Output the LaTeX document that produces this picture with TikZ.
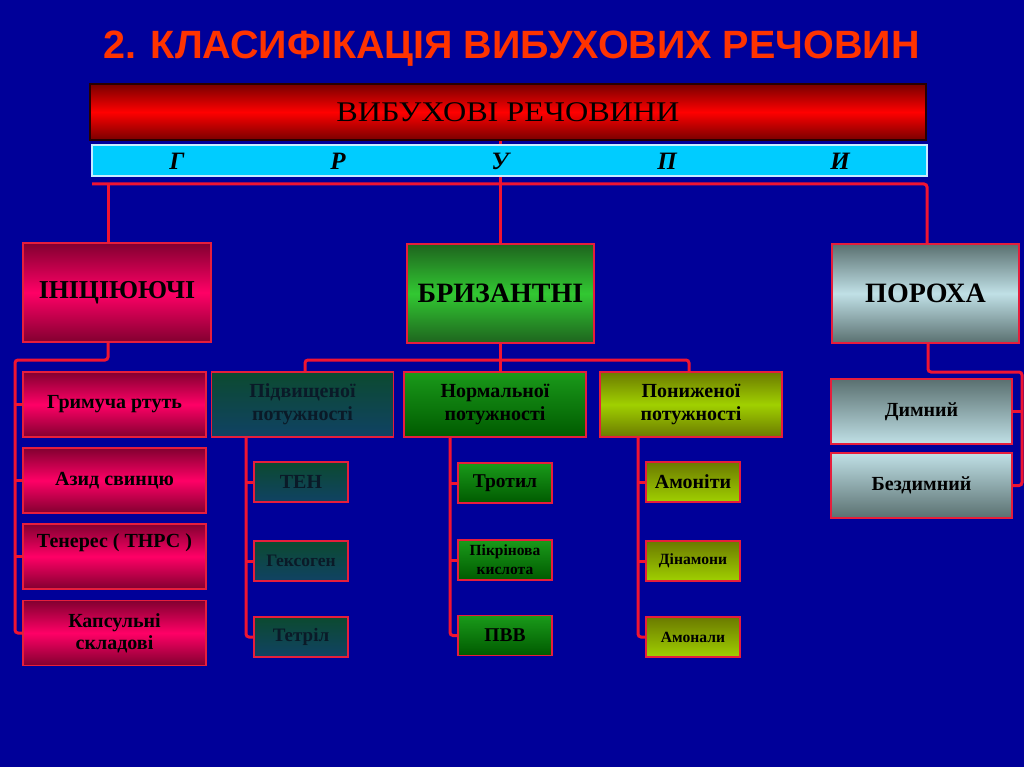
\documentclass[tikz,border=0pt]{standalone}
\usepackage{fontspec}
\setmainfont{Liberation Serif}
\newfontfamily\titlefont{Liberation Sans}
\pgfdeclarelayer{bg}
\pgfsetlayers{bg,main}
\definecolor{bgblue}{RGB}{0,0,153}
\definecolor{titlered}{RGB}{255,51,0}
\definecolor{linered}{RGB}{240,20,50}
\definecolor{boxred}{RGB}{230,30,60}
\definecolor{mainA}{RGB}{120,0,0}
\definecolor{mainB}{RGB}{255,0,0}
\definecolor{cyanbar}{RGB}{0,204,255}
\definecolor{magA}{RGB}{130,0,48}
\definecolor{magB}{RGB}{255,0,102}
\definecolor{grA}{RGB}{30,100,30}
\definecolor{grB}{RGB}{50,200,50}
\definecolor{gyA}{RGB}{90,112,112}
\definecolor{gyB}{RGB}{192,224,230}
\definecolor{tlA}{RGB}{12,74,48}
\definecolor{tlB}{RGB}{16,66,100}
\definecolor{ngA}{RGB}{26,154,26}
\definecolor{ngB}{RGB}{0,90,0}
\definecolor{ylA}{RGB}{107,122,0}
\definecolor{ylB}{RGB}{160,208,0}
\definecolor{darktext}{RGB}{10,26,40}
\newcommand\fsz[2]{\fontsize{#1}{#2}\selectfont}
\begin{document}
\begin{tikzpicture}[x=1pt,y=-1pt,
  box/.style={draw=boxred, line width=1.2pt, inner sep=0pt, align=center, font=\bfseries},
  magbox/.style={box, top color=magA, bottom color=magA, middle color=magB},
  grbox/.style={box, top color=grA, bottom color=grA, middle color=grB},
  gybox/.style={box, top color=gyA, bottom color=gyA, middle color=gyB},
  tlbox/.style={box, top color=tlA, bottom color=tlB, text=darktext},
  ngbox/.style={box, top color=ngA, bottom color=ngB},
  ylbox/.style={box, top color=ylA, bottom color=ylA, middle color=ylB},
  ylsmall/.style={box, top color=ylA, bottom color=ylB},
  conn/.style={draw=linered, line width=3pt, rounded corners=3pt},
  grp/.style={font=\bfseries\itshape\fsz{25}{28}},
  sub/.style={minimum width=182pt, minimum height=65pt, font=\bfseries\fsz{20}{23}},
  small/.style={minimum width=94pt, minimum height=40pt},
  leftb/.style={magbox, minimum width=183pt, minimum height=65pt, font=\bfseries\fsz{20}{22}},
  powb/.style={gybox, minimum width=181pt, minimum height=65pt, font=\bfseries\fsz{20}{22}}
]
\useasboundingbox (0,0) rectangle (1024,767);
% title
\node[anchor=base, text=titlered, font=\titlefont\bfseries\fsz{39.5}{44}] (title) at (511.5,59) {2. КЛАСИФІКАЦІЯ ВИБУХОВИХ РЕЧОВИН};
% main box and groups bar
\node[draw={rgb,255:red,40;green,0;blue,0}, line width=1.2pt, inner sep=0pt, top color=mainA, bottom color=mainA, middle color=mainB,
  minimum width=836pt, minimum height=56pt, font=\fsz{28.5}{32}] (main) at (508,112) {\scalebox{1.13}[1]{ВИБУХОВІ РЕЧОВИНИ}};
\node[draw={rgb,255:red,200;green,235;blue,255}, line width=1.5pt, fill=cyanbar, inner sep=0pt,
  minimum width=835pt, minimum height=31pt] (bar) at (509.5,160.5) {};
\node[grp] (g1) at (177,161) {Г};
\node[grp] (g2) at (338,161) {Р};
\node[grp] (g3) at (500,161) {У};
\node[grp] (g4) at (667,161) {П};
\node[grp] (g5) at (840,161) {И};
% level 1
\node[magbox, minimum width=188pt, minimum height=99pt, font=\bfseries\fsz{25.8}{28}] (init) at (117,292.5) {ІНІЦІЮЮЧІ};
\node[grbox, minimum width=187pt, minimum height=99pt, font=\bfseries\fsz{28}{30}] (briz) at (500.5,293.5) {БРИЗАНТНІ};
\node[gybox, minimum width=187pt, minimum height=99pt, font=\bfseries\fsz{28}{30}] (por) at (925.5,293.5) {ПОРОХА};
% initiating list
\node[leftb] (grim) at (114.5,404.5) {Гримуча ртуть};
\node[leftb] (azid) at (114.5,480.5) {Азид свинцю};
\node[leftb] (tener) at (114.5,556.5) {};
\node[font=\bfseries\fsz{20}{22}, inner sep=0pt] (tenerT) at (114.5,543) {Тенерес ( ТНРС )};
\node[leftb] (kaps) at (114.5,633) {Капсульні\\складові};
% brisant subgroups
\node[tlbox, sub] (pidv) at (302.5,404.5) {Підвищеної\\потужності};
\node[ngbox, sub] (norm) at (495,404.5) {Нормальної\\потужності};
\node[ylbox, sub] (pon) at (691,404.5) {Пониженої\\потужності};
\node[tlbox, small, font=\bfseries\fsz{20}{22}] (ten) at (301,482) {ТЕН};
\node[tlbox, small, font=\bfseries\fsz{17.5}{20}] (heks) at (301,561) {Гексоген};
\node[tlbox, small, font=\bfseries\fsz{19}{20}] (tetr) at (301,637) {Тетріл};
\node[ngbox, small, font=\bfseries\fsz{19.5}{20}] (trot) at (505,483) {Тротил};
\node[ngbox, small, font=\bfseries\fsz{15.5}{19}] (pikr) at (505,560) {Пікрінова\\кислота};
\node[ngbox, small, font=\bfseries\fsz{19.5}{20}] (pvv) at (505,635.5) {ПВВ};
\node[ylsmall, small, font=\bfseries\fsz{20}{22}] (amnt) at (693,482) {Амоніти};
\node[ylsmall, small, font=\bfseries\fsz{15.6}{18}] (dnm) at (693,561) {Дінамони};
\node[ylsmall, small, font=\bfseries\fsz{15.6}{18}] (amnl) at (693,637) {Амонали};
% powders
\node[powb, top color=gyA, bottom color=gyB] (dym) at (921.5,411.5) {Димний};
\node[powb, top color=gyB, bottom color=gyA] (bezd) at (921.5,485.5) {Бездимний};
% coordinates for connectors
\coordinate (busL) at (92,184);
\coordinate (busI) at (108,184);
\coordinate (busR) at (927,184);
\coordinate (iL) at (15,360);
\coordinate (bH) at (305,360);
\coordinate (bR) at (689,360);
\coordinate (pR) at (1022,372);
\begin{pgfonlayer}{bg}
\fill[bgblue] (0,0) rectangle (1024,767);
\draw[conn] (main.south -| g3) -- (briz.north -| g3);
\draw[conn] (busL) -- (busR) -- (por.north -| busR);
\draw[conn] (busI) -- (init.north -| busI);
% initiating
\draw[conn] (init.south -| busI) |- (iL) |- (kaps.west);
\draw[conn] (iL |- grim.west) -- (grim.west);
\draw[conn] (iL |- azid.west) -- (azid.west);
\draw[conn] (iL |- tener.west) -- (tener.west);
% brisant
\draw[conn] (briz.south -| g3) -- (norm.north -| g3);
\draw[conn] (pidv.north -| bH) |- (bR) -- (pon.north -| bR);
\draw[conn] (pidv.south -| 246,0) |- (tetr.west);
\draw[conn] (246,0 |- ten.west) -- (ten.west);
\draw[conn] (246,0 |- heks.west) -- (heks.west);
\draw[conn] (norm.south -| 450,0) |- (pvv.west);
\draw[conn] (450,0 |- trot.west) -- (trot.west);
\draw[conn] (450,0 |- pikr.west) -- (pikr.west);
\draw[conn] (pon.south -| 638,0) |- (amnl.west);
\draw[conn] (638,0 |- amnt.west) -- (amnt.west);
\draw[conn] (638,0 |- dnm.west) -- (dnm.west);
% powders
\draw[conn] (por.south -| 928,0) |- (pR) |- (bezd.east);
\draw[conn] (pR |- dym.east) -- (dym.east);
\end{pgfonlayer}
\end{tikzpicture}
\end{document}
